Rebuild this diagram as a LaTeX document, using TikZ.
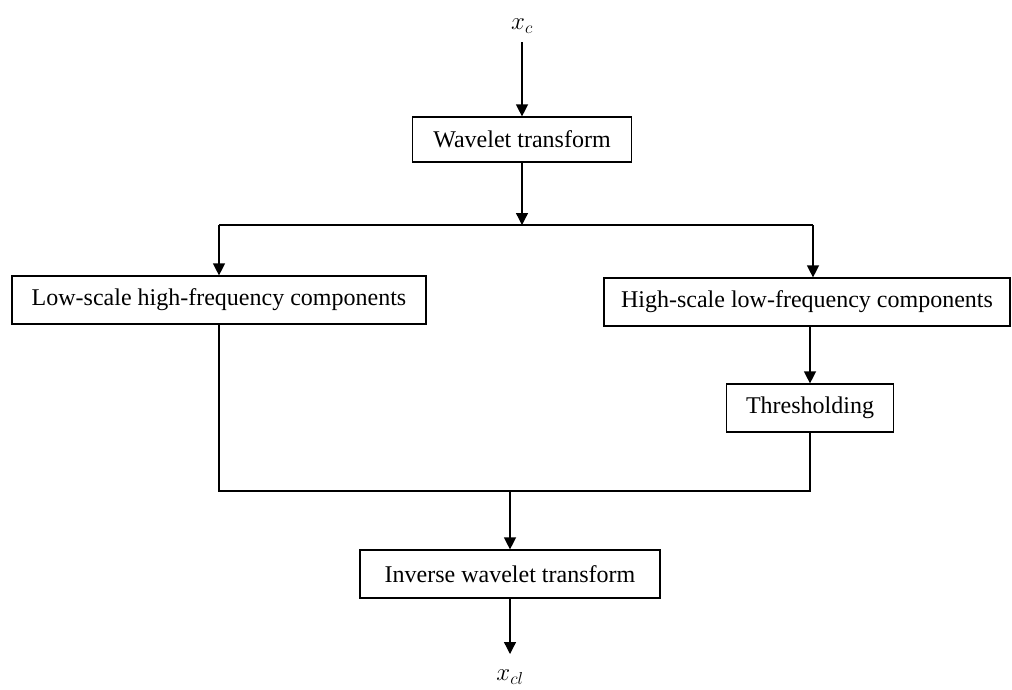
\documentclass[tikz,border=0pt]{standalone}
\usepackage{fontspec}
\setmainfont{Liberation Serif}
\usetikzlibrary{arrows.meta}
\begin{document}
\begin{tikzpicture}[x=1pt,y=-1pt,
  box/.style={draw, line width=1.2pt, inner sep=0pt, font=\fontsize{24}{28}\selectfont},
  lbl/.style={inner sep=0pt, font=\fontsize{25}{29}\selectfont},
  conn/.style={line width=1.3pt},
  arr/.style={conn, -{Triangle[length=12pt,width=12pt]}}]
\useasboundingbox (0,0) rectangle (1012,689);
\node[lbl] (xc) at (522,26) {$x_c$};
\node[box, minimum width=219pt, minimum height=45pt] (wt) at (522,139.5) {Wavelet transform};
\node[box, minimum width=414pt, minimum height=48pt] (lo) at (219,300) {Low-scale high-frequency components};
\node[box, minimum width=406pt, minimum height=48pt] (hi) at (807,302) {High-scale low-frequency components};
\node[box, minimum width=167pt, minimum height=48pt] (th) at (810,408) {Thresholding};
\node[box, minimum width=300pt, minimum height=48pt] (inv) at (510,574) {Inverse wavelet transform};
\node[lbl] (xcl) at (510,677) {$x_{cl}$};
\coordinate (xcin) at (522,42);
\coordinate (split) at (522,225);
\coordinate (tl) at (219,225);
\coordinate (tr) at (813,225);
\coordinate (merge) at (510,491);
\coordinate (xclin) at (510,654);
\draw[arr] (xcin) -- (wt.north);
\draw[arr] (wt.south) -- (split);
\draw[conn] (tl) -- (tr);
\draw[arr] (tl) -- (lo.north -| tl);
\draw[arr] (tr) -- (hi.north -| tr);
\draw[arr] (hi.south -| th.north) -- (th.north);
\draw[conn] (lo.south) |- (merge);
\draw[conn] (th.south) |- (merge);
\draw[arr] (merge) -- (inv.north);
\draw[arr] (inv.south) -- (xclin);
\end{tikzpicture}
\end{document}
